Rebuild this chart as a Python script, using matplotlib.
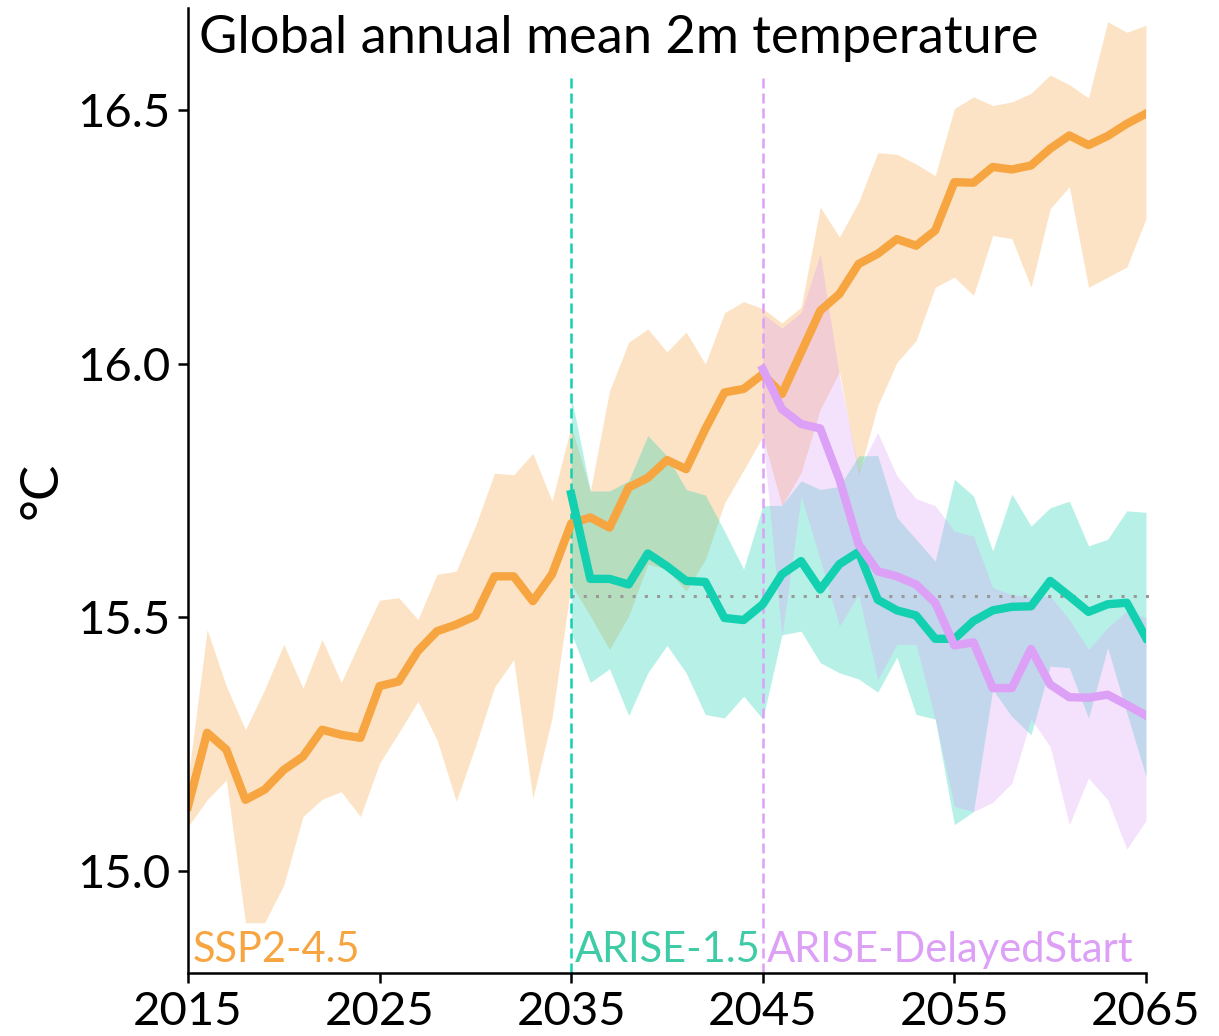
import matplotlib
matplotlib.use("Agg")
import matplotlib.pyplot as plt
import numpy as np

plt.rcParams['font.family'] = ['Lato', 'DejaVu Sans']

# SSP2-4.5, 2015-2065
ssp_years = list(range(2015, 2066))
ssp_mean = [15.128, 15.273, 15.240, 15.141, 15.161, 15.200, 15.226, 15.279, 15.269, 15.263,
            15.365, 15.374, 15.434, 15.473, 15.486, 15.503, 15.581, 15.581, 15.532, 15.585,
            15.685, 15.697, 15.677, 15.756, 15.775, 15.810, 15.792, 15.871, 15.943, 15.950,
            15.979, 15.940, 16.022, 16.104, 16.137, 16.196, 16.216, 16.245, 16.232, 16.262,
            16.357, 16.356, 16.387, 16.382, 16.390, 16.423, 16.449, 16.430, 16.448, 16.472,
            16.492]
ssp_hi = [15.180, 15.476, 15.365, 15.279, 15.358, 15.447, 15.361, 15.457, 15.372, 15.455,
          15.534, 15.539, 15.496, 15.585, 15.591, 15.680, 15.784, 15.781, 15.823, 15.729,
          15.877, 15.749, 15.946, 16.042, 16.068, 16.023, 16.062, 15.999, 16.100, 16.122,
          16.108, 16.080, 16.111, 16.308, 16.249, 16.318, 16.415, 16.412, 16.393, 16.370,
          16.502, 16.525, 16.508, 16.515, 16.532, 16.568, 16.549, 16.523, 16.673, 16.652,
          16.666]
ssp_lo = [15.088, 15.141, 15.180, 14.899, 14.899, 14.973, 15.108, 15.142, 15.157, 15.108,
          15.213, 15.273, 15.335, 15.259, 15.138, 15.246, 15.363, 15.417, 15.144, 15.302,
          15.565, 15.503, 15.437, 15.503, 15.605, 15.595, 15.552, 15.614, 15.725, 15.790,
          15.856, 15.720, 15.785, 15.910, 15.983, 15.780, 15.917, 16.002, 16.045, 16.150,
          16.170, 16.134, 16.252, 16.246, 16.150, 16.305, 16.348, 16.150, 16.170, 16.190,
          16.285]

# ARISE-1.5, 2035-2065
arise_years = list(range(2035, 2066))
arise_mean = [15.743, 15.576, 15.576, 15.565, 15.626, 15.601, 15.572, 15.570, 15.499, 15.495,
              15.526, 15.585, 15.611, 15.555, 15.605, 15.629, 15.535, 15.514, 15.504, 15.458,
              15.458, 15.493, 15.514, 15.521, 15.522, 15.572, 15.542, 15.511, 15.526, 15.529,
              15.460]
arise_hi = [15.936, 15.749, 15.749, 15.769, 15.858, 15.818, 15.752, 15.741, 15.670, 15.595,
            15.720, 15.721, 15.769, 15.752, 15.758, 15.818, 15.819, 15.697, 15.654, 15.611,
            15.772, 15.739, 15.631, 15.743, 15.680, 15.716, 15.729, 15.641, 15.654, 15.710,
            15.707]
arise_lo = [15.470, 15.372, 15.399, 15.307, 15.391, 15.445, 15.391, 15.309, 15.302, 15.345,
            15.300, 15.466, 15.473, 15.411, 15.391, 15.379, 15.353, 15.422, 15.309, 15.300,
            15.092, 15.118, 15.358, 15.305, 15.269, 15.404, 15.401, 15.302, 15.440, 15.312,
            15.187]

# ARISE-DelayedStart, 2045-2065
delay_years = list(range(2045, 2066))
delay_mean = [15.989, 15.910, 15.881, 15.872, 15.772, 15.644, 15.591, 15.581, 15.565, 15.529,
              15.445, 15.451, 15.361, 15.361, 15.438, 15.368, 15.343, 15.342, 15.348, 15.328,
              15.307]
delay_hi = [16.098, 16.070, 16.100, 16.216, 15.975, 15.790, 15.864, 15.779, 15.734, 15.720,
            15.670, 15.660, 15.559, 15.545, 15.540, 15.542, 15.496, 15.437, 15.480, 15.513,
            15.500]
delay_lo = [15.856, 15.463, 15.739, 15.614, 15.483, 15.545, 15.378, 15.447, 15.447, 15.299,
            15.128, 15.118, 15.136, 15.174, 15.300, 15.246, 15.092, 15.184, 15.141, 15.044,
            15.100]

target = 15.542

c_ssp = '#F7A541'
c_arise = '#12D0B0'
c_delay = '#DDA0F7'

fig = plt.figure(figsize=(12.19, 10.36), dpi=100)
ax = fig.add_axes([0.1542, 0.0608, 0.7859, 0.9315])

ax.fill_between(ssp_years, ssp_lo, ssp_hi, color=c_ssp, alpha=0.3, lw=0)
ax.fill_between(arise_years, arise_lo, arise_hi, color=c_arise, alpha=0.3, lw=0)
ax.fill_between(delay_years, delay_lo, delay_hi, color=c_delay, alpha=0.3, lw=0)

ax.hlines(target, 2035, 2065.3, colors='#999999', linestyles=(0, (1, 3)), lw=2.2, clip_on=False)
ax.vlines(2035, 14.8, 16.57, colors=c_arise, linestyles=(0, (4, 2)), lw=1.8)
ax.vlines(2045, 14.8, 16.57, colors=c_delay, linestyles=(0, (4, 2)), lw=1.8)

ax.plot(ssp_years, ssp_mean, color=c_ssp, lw=6)
ax.plot(arise_years, arise_mean, color=c_arise, lw=6)
ax.plot(delay_years, delay_mean, color=c_delay, lw=6)

ax.text(2015.25, 14.808, 'SSP2-4.5', color=c_ssp, fontsize=30, va='bottom', ha='left')
ax.text(2035.2, 14.808, 'ARISE-1.5', color='#3ECBA6', fontsize=30, va='bottom', ha='left')
ax.text(2045.2, 14.808, 'ARISE-DelayedStart', color=c_delay, fontsize=30, va='bottom', ha='left')

ax.text(2015.6, 16.64, 'Global annual mean 2m temperature', fontsize=37.7, va='center', ha='left')

ax.set_xlim(2015, 2065)
ax.set_ylim(14.8, 16.7)
ax.set_xticks([2015, 2025, 2035, 2045, 2055, 2065])
ax.set_yticks([15.0, 15.5, 16.0, 16.5])
ax.set_yticklabels(['15.0', '15.5', '16.0', '16.5'])
ax.tick_params(labelsize=34, length=7, width=1.8, pad=6)
ax.set_ylabel('°C', fontsize=38, labelpad=8)

for s in ['top', 'right']:
    ax.spines[s].set_visible(False)
for s in ['left', 'bottom']:
    ax.spines[s].set_linewidth(1.8)

fig.savefig('out.png', dpi=100)
